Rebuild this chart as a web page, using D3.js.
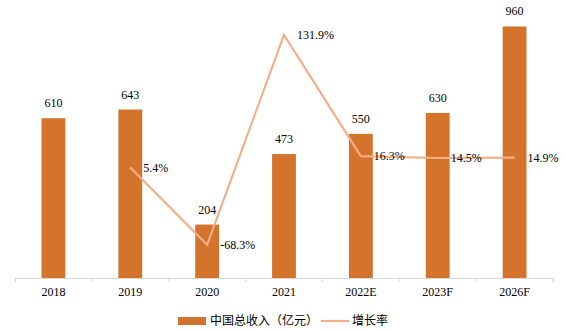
<!DOCTYPE html>
<html>
<head>
<meta charset="utf-8">
<script src="https://cdn.jsdelivr.net/npm/d3@7"></script>
<style>
  html, body { margin: 0; padding: 0; background: #fff; }
  svg { display: block; }
</style>
</head>
<body>
<svg id="chart" width="567" height="331"></svg>
<script>
// Revenue (亿元) and year-on-year growth (%)
const years = ["2018", "2019", "2020", "2021", "2022E", "2023F", "2026F"];
const revenue = [610, 643, 204, 473, 550, 630, 960];
const growth = [null, 5.4, -68.3, 131.9, 16.3, 14.5, 14.9];
const growthLabels = ["", "5.4%", "-68.3%", "131.9%", "16.3%", "14.5%", "14.9%"];
const legendNames = ["中国总收入（亿元）", "增长率"];

const barColor = "#D4732B";
const lineColor = "#F4AE8A";
const serif = "'Liberation Serif', 'Times New Roman', serif";
const cjk = "'Noto Sans CJK SC', sans-serif";

const svg = d3.select("#chart");
const plotLeft = 15, plotRight = 553, plotBottom = 278, plotTop = 16;

const x = d3.scaleBand().domain(years).range([plotLeft, plotRight]).paddingInner(0.69).paddingOuter(0.345);
const band = d3.scaleBand().domain(years).range([plotLeft, plotRight]);
const y = d3.scaleLinear().domain([0, 1000]).range([plotBottom, plotTop]);
const y2 = d3.scaleLinear().domain([-100, 150]).range([plotBottom, plotTop]);

// Bars
svg.append("g").selectAll("rect").data(years).join("rect")
  .attr("x", d => x(d))
  .attr("width", x.bandwidth())
  .attr("y", (d, i) => y(revenue[i]))
  .attr("height", (d, i) => y(0) - y(revenue[i]))
  .attr("fill", barColor);

// Bar value labels
svg.append("g").selectAll("text").data(years).join("text")
  .attr("x", d => x(d) + x.bandwidth() / 2)
  .attr("y", (d, i) => y(revenue[i]) - 11)
  .attr("text-anchor", "middle")
  .attr("font-family", serif)
  .attr("font-size", 12)
  .attr("fill", "#000")
  .text((d, i) => revenue[i]);

// X axis
const xAxis = d3.axisBottom(band).tickSize(4).tickSizeOuter(4);
const gx = svg.append("g").attr("transform", `translate(0,${plotBottom})`).call(xAxis);
gx.select(".domain").attr("stroke", "#D9D9D9");
gx.selectAll(".tick line").remove();
// boundary ticks between categories
gx.selectAll(".sep").data(d3.range(years.length + 1)).join("line")
  .attr("class", "sep")
  .attr("x1", i => plotLeft + i * band.step())
  .attr("x2", i => plotLeft + i * band.step())
  .attr("y1", 0).attr("y2", 4)
  .attr("stroke", "#D9D9D9");
gx.selectAll(".tick text")
  .attr("font-family", serif)
  .attr("font-size", 12)
  .attr("fill", "#000")
  .attr("dy", "0.71em")
  .attr("y", 9);

// Growth line
const pts = years.map((d, i) => ({ d, v: growth[i], label: growthLabels[i] })).filter(p => p.v !== null);
const line = d3.line().x(p => band(p.d) + band.bandwidth() / 2).y(p => y2(p.v));
svg.append("path").datum(pts)
  .attr("d", line)
  .attr("fill", "none")
  .attr("stroke", lineColor)
  .attr("stroke-width", 2.2)
  .attr("stroke-linejoin", "miter");

svg.append("g").selectAll("text").data(pts).join("text")
  .attr("x", p => band(p.d) + band.bandwidth() / 2 + 13)
  .attr("y", p => y2(p.v))
  .attr("dy", "0.35em")
  .attr("font-family", serif)
  .attr("font-size", 12)
  .attr("fill", "#000")
  .text(p => p.label);

// Legend
const lg = svg.append("g");
lg.append("rect").attr("x", 178).attr("y", 317).attr("width", 28).attr("height", 8).attr("fill", barColor);
lg.append("text").attr("x", 210).attr("y", 321).attr("dy", "0.35em")
  .attr("font-family", cjk).attr("font-size", 12).attr("fill", "#000").text(legendNames[0]);
lg.append("line").attr("x1", 321).attr("x2", 349).attr("y1", 321).attr("y2", 321)
  .attr("stroke", lineColor).attr("stroke-width", 2.2);
lg.append("text").attr("x", 352).attr("y", 321).attr("dy", "0.35em")
  .attr("font-family", cjk).attr("font-size", 12).attr("fill", "#000").text(legendNames[1]);
</script>
</body>
</html>
